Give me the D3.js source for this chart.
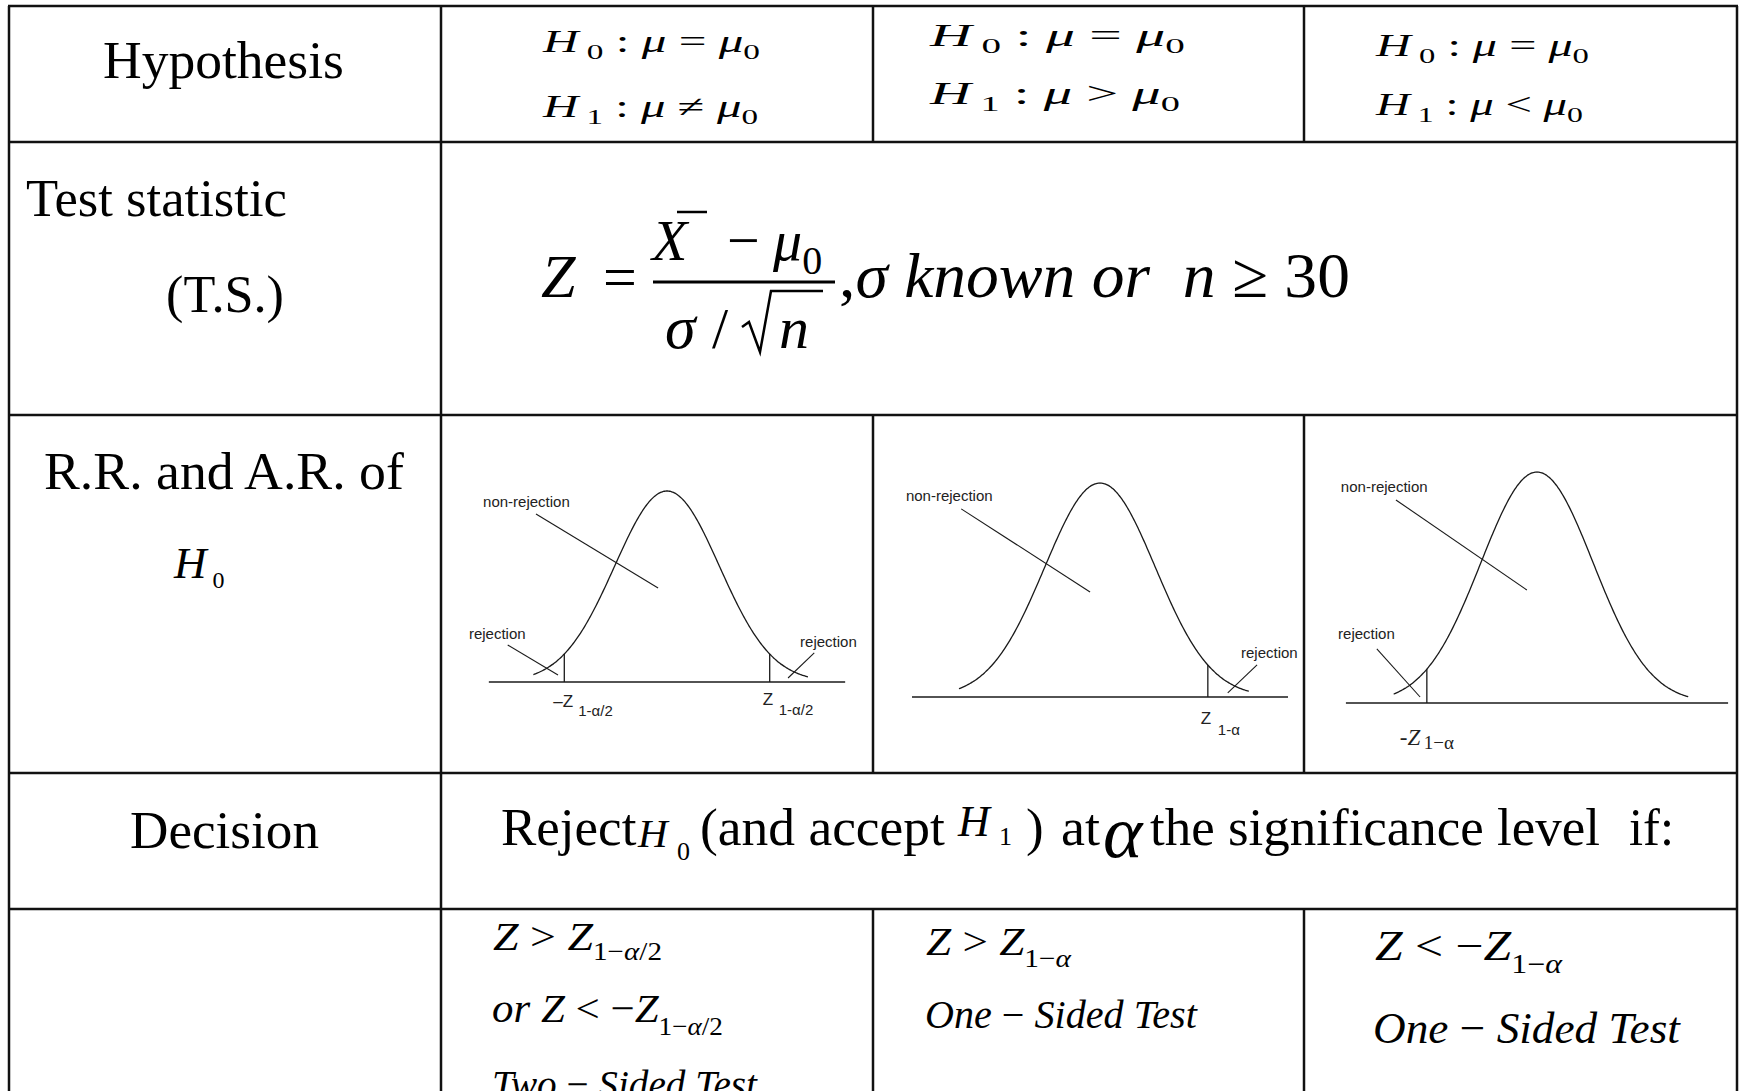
<!DOCTYPE html>
<html>
<head>
<meta charset="utf-8">
<script src="https://cdn.jsdelivr.net/npm/d3@7"></script>
<style>
  body { margin: 0; background: #fff; }
  svg { display: block; }
  text { white-space: pre; }
</style>
</head>
<body>
<div id="chart"></div>
<script>
/* z-test summary table */

const width = 1742;
const height = 1091;

const SERIF = "'Liberation Serif','Times New Roman',serif";
const SANS = "'Liberation Sans',Arial,sans-serif";

// ---- data ----
const rowLabels = ["Hypothesis", "Test statistic", "(T.S.)", "R.R. and A.R. of", "Decision"];
const altRelation = ["≠", ">", "<"];          // H1 relation per column
const curveZ = [-2.55, 2.7];                   // drawn part of each bell curve
const axisZ = [-3.4, 3.4];                     // extent of the horizontal axis
const criticalZ = [[-1.96, 1.96], [1.95], [-1.96]];
const tickMain = [["–Z", "Z"], ["Z"], ["-Z"]];
const tickSub = [["1-α/2", "1-α/2"], ["1-α"], ["1−α"]];
const nonRejLabel = [[-3.51, 0.916], [-3.51, 0.915], [-3.49, 0.913]];
const nonRejPointer = [[-2.50, 0.880, -0.17, 0.492], [-2.51, 0.879, -0.18, 0.491], [-2.51, 0.879, -0.18, 0.489]];
const rejLabel = [[[-3.78, 0.225], [2.54, 0.183]], [[2.55, 0.182]], [[-3.54, 0.277]]];
const rejPointer = [
  [[-3.04, 0.194, -2.08, 0.037], [2.81, 0.152, 2.31, 0.021]],
  [[2.84, 0.150, 2.31, 0.019]],
  [[-2.85, 0.234, -2.08, 0.026]]
];
const ruleSubs = ["1−α/2", "1−α", "1−α"];
const testKinds = ["Two", "One", "One"];

// ---- layout ----
const colEdges = [9, 441, 873, 1304, 1737];
const rowEdges = [6, 142, 415, 773, 909, 1100];
const splitRows = [0, 2, 4];
const panels = [
  { cx: 667, sigma: 52.4, base: 682, height: 191 },
  { cx: 1100, sigma: 55.3, base: 697, height: 214 },
  { cx: 1537, sigma: 56.2, base: 703, height: 231 }
];
// tick label placement relative to tick: [mainDx, subDx, mainDy, subDy]
const tickPlace = [
  [[-11, 14, 25, 34], [-7, 9, 23, 33]],
  [[-7, 10, 27, 38]],
  [[-27, -3, 42, 46]]
];

const svg = d3.select("#chart").append("svg")
  .attr("width", width)
  .attr("height", height);

svg.append("rect").attr("width", width).attr("height", height).attr("fill", "#fff");

// rich text: parts drawn as tspans, optionally stretched to a target width
function rich(x, y, parts, opt = {}) {
  const g = svg.append("g");
  const t = g.append("text")
    .attr("x", 0).attr("y", 0)
    .attr("font-family", opt.family || SERIF)
    .attr("font-size", opt.size || 52)
    .attr("fill", opt.fill || "#000");
  parts.forEach(p => {
    if (typeof p === "string") p = { t: p };
    const s = t.append("tspan").attr("y", p.dy || 0).text(p.t);
    if (p.i) s.attr("font-style", "italic");
    if (p.size) s.attr("font-size", p.size);
    if (p.dx) s.attr("dx", p.dx);
  });
  let sx = 1;
  if (opt.w) sx = opt.w / t.node().getComputedTextLength();
  g.attr("transform", `translate(${x},${y}) scale(${sx},1)`);
  return g;
}

/************************************************
 * 1. Table grid                                *
 ************************************************/
const grid = svg.append("g").attr("stroke", "#111").attr("stroke-width", 2.5);

grid.selectAll("line.h").data(rowEdges.slice(0, 5)).enter().append("line")
  .attr("x1", colEdges[0] - 1).attr("x2", colEdges[4] + 1)
  .attr("y1", d => d).attr("y2", d => d);

[colEdges[0], colEdges[1], colEdges[4]].forEach(x => {
  grid.append("line").attr("x1", x).attr("x2", x).attr("y1", rowEdges[0]).attr("y2", rowEdges[5]);
});
splitRows.forEach(r => {
  [colEdges[2], colEdges[3]].forEach(x => {
    grid.append("line").attr("x1", x).attr("x2", x).attr("y1", rowEdges[r]).attr("y2", rowEdges[r + 1]);
  });
});

/************************************************
 * 2. Row labels                                *
 ************************************************/
rich(103, 78, [rowLabels[0]], { w: 241 });
rich(26, 216, [rowLabels[1]], { w: 261 });
rich(166, 312, [rowLabels[2]], { w: 118 });
rich(44, 489, [rowLabels[3]], { w: 360 });
rich(174, 578, [{ t: "H", i: 1 }, { t: " 0", size: 24, dy: 10 }], { size: 45 });
rich(130, 848, [rowLabels[4]], { w: 189 });

/************************************************
 * 3. Hypotheses                                *
 ************************************************/
const hypPos = [
  { x: 543, y: [52, 117], w: [217, 215] },
  { x: 930, y: [46, 104], w: [255, 250] },
  { x: 1376, y: [56, 115], w: [213, 207] }
];
hypPos.forEach((p, c) => {
  rich(p.x, p.y[0], [
    { t: "H", i: 1 }, { t: " 0", size: 21, dy: 7 }, " : ", { t: "μ", i: 1 }, " = ",
    { t: "μ", i: 1 }, { t: "0", size: 21, dy: 7 }
  ], { size: 31, w: p.w[0] });
  rich(p.x, p.y[1], [
    { t: "H", i: 1 }, { t: " 1", size: 21, dy: 7 }, " : ", { t: "μ", i: 1 }, ` ${altRelation[c]} `,
    { t: "μ", i: 1 }, { t: "0", size: 21, dy: 7 }
  ], { size: 31, w: p.w[1] });
});

/************************************************
 * 4. Test statistic formula                    *
 ************************************************/
rich(541, 297, [{ t: "Z", i: 1 }], { size: 62 });
rich(603, 297, ["="], { size: 60 });
rich(652, 260, [{ t: "X", i: 1 }], { size: 58 });
svg.append("line").attr("x1", 677).attr("x2", 707).attr("y1", 212).attr("y2", 212)
  .attr("stroke", "#000").attr("stroke-width", 2.5);
rich(727, 260, ["−"], { size: 58 });
rich(773, 260, [{ t: "μ", i: 1 }, { t: "0", size: 40, dy: 14 }], { size: 58 });
svg.append("line").attr("x1", 653).attr("x2", 835).attr("y1", 282).attr("y2", 282)
  .attr("stroke", "#000").attr("stroke-width", 3);
rich(665, 348, [{ t: "σ", i: 1 }], { size: 62 });
rich(712, 348, ["/"], { size: 58 });
svg.append("path").attr("d", "M742,327 L749,322 L760,352 L771,291 L823,291")
  .attr("fill", "none").attr("stroke", "#000").attr("stroke-width", 2.5);
rich(779, 348, [{ t: "n", i: 1 }], { size: 60 });
rich(839, 297, [",", { t: "σ known or  n ", i: 1 }, "≥ 30"], { size: 64, w: 511 });

/************************************************
 * 5. Rejection / acceptance regions            *
 ************************************************/
const phi = z => Math.exp(-z * z / 2);

panels.forEach((p, k) => {
  const x = d3.scaleLinear().domain(axisZ).range(axisZ.map(z => p.cx + z * p.sigma));
  const y = d3.scaleLinear().domain([0, 1]).range([p.base, p.base - p.height]);
  const g = svg.append("g").attr("stroke", "#1a1a1a").attr("fill", "none").attr("stroke-width", 1.3);

  // axis
  g.append("line").attr("x1", x(axisZ[0])).attr("x2", x(axisZ[1]))
    .attr("y1", y(0)).attr("y2", y(0));

  // bell curve
  const pts = d3.range(curveZ[0], curveZ[1] + 0.001, 0.02).map(z => [z, phi(z)]);
  g.append("path").attr("d", d3.line().x(d => x(d[0])).y(d => y(d[1])).curve(d3.curveBasis)(pts));

  // critical value ticks
  criticalZ[k].forEach((c, j) => {
    g.append("line").attr("x1", x(c)).attr("x2", x(c)).attr("y1", y(0)).attr("y2", y(phi(c)));
    const tp = tickPlace[k][j];
    const big = k === 2;
    svg.append("text").attr("x", x(c) + tp[0]).attr("y", y(0) + tp[2])
      .attr("font-family", big ? SERIF : SANS).attr("font-size", big ? 23 : 17)
      .attr("font-style", big ? "italic" : null).attr("fill", "#222")
      .text(tickMain[k][j]);
    svg.append("text").attr("x", x(c) + tp[1]).attr("y", y(0) + tp[3])
      .attr("font-family", big ? SERIF : SANS).attr("font-size", big ? 19 : 15)
      .attr("fill", "#222")
      .text(tickSub[k][j]);
  });

  // labels and pointers
  const lab = (z, f, s) => svg.append("text").attr("x", x(z)).attr("y", y(f))
    .attr("font-family", SANS).attr("font-size", 15).attr("fill", "#222").text(s);
  const ptr = d => g.append("line").attr("x1", x(d[0])).attr("y1", y(d[1]))
    .attr("x2", x(d[2])).attr("y2", y(d[3])).attr("stroke-width", 1.1);

  lab(nonRejLabel[k][0], nonRejLabel[k][1], "non-rejection");
  ptr(nonRejPointer[k]);
  rejLabel[k].forEach((r, j) => {
    lab(r[0], r[1], "rejection");
    ptr(rejPointer[k][j]);
  });
});

/************************************************
 * 6. Decision                                  *
 ************************************************/
rich(501, 845, ["Reject"], { size: 53 });
rich(638, 847, [{ t: "H", i: 1 }], { size: 41 });
rich(677, 860, ["0"], { size: 26 });
rich(700, 845, ["(and accept"], { size: 53, w: 245 });
rich(958, 836, [{ t: "H", i: 1 }], { size: 44 });
rich(999, 845, ["1"], { size: 26 });
rich(1026, 845, [")"], { size: 53 });
rich(1061, 845, ["at"], { size: 53, w: 39 });
rich(1103, 857, [{ t: "α", i: 1 }], { size: 75 });
rich(1150, 845, ["the significance level"], { size: 53, w: 450 });
rich(1629, 845, ["if:"], { size: 53, w: 45 });

// rejection rules
const sub = (s, dy, size) => s.split(/(α)/).filter(d => d).map(d => ({ t: d, i: d === "α", size: size, dy: dy }));

rich(493, 950, [{ t: "Z", i: 1 }, " > ", { t: "Z", i: 1 }, ...sub(ruleSubs[0], 10, 26)], { size: 41, w: 169 });
rich(492, 1022, [{ t: "or Z", i: 1 }, " < −", { t: "Z", i: 1 }, ...sub(ruleSubs[0], 13, 26)], { size: 41, w: 231 });
rich(492, 1098, [{ t: testKinds[0] + " ", i: 1 }, "− ", { t: "Sided Test", i: 1 }], { size: 41, w: 265 });

rich(926, 955, [{ t: "Z", i: 1 }, " > ", { t: "Z", i: 1 }, ...sub(ruleSubs[1], 12, 26)], { size: 40, w: 145 });
rich(925, 1028, [{ t: testKinds[1] + " ", i: 1 }, "− ", { t: "Sided Test", i: 1 }], { size: 40, w: 272 });

rich(1375, 960, [{ t: "Z", i: 1 }, " < −", { t: "Z", i: 1 }, ...sub(ruleSubs[2], 13, 27)], { size: 42, w: 187 });
rich(1373, 1043, [{ t: testKinds[2] + " ", i: 1 }, "− ", { t: "Sided Test", i: 1 }], { size: 44, w: 307 });
</script>
</body>
</html>
